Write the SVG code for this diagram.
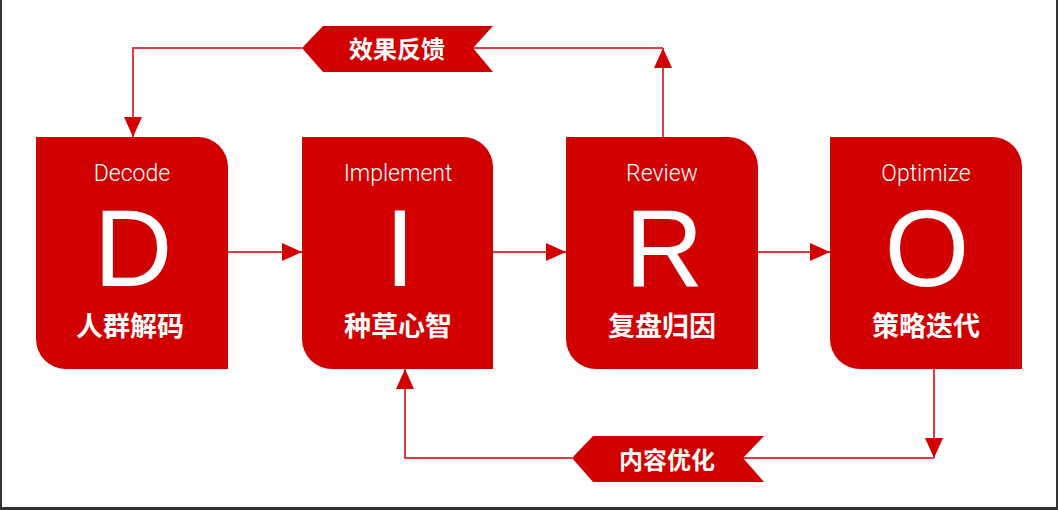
<svg xmlns="http://www.w3.org/2000/svg" width="1058" height="510" viewBox="0 0 1058 510">
<defs>
<style>
.card{fill:#d10000}
.sub{font-family:Roboto,"Liberation Sans",sans-serif;font-weight:300;fill:#fff;text-anchor:middle;font-size:23px}
.big{font-family:"Liberation Sans",Arial,sans-serif;font-weight:400;fill:#fff;text-anchor:middle;font-size:109px}
.cn{font-family:"Noto Sans CJK SC","Liberation Sans",sans-serif;font-weight:700;fill:#fff;text-anchor:middle;font-size:27px}
.tg{font-size:24px}
.ln{fill:none;stroke:#e23b40;stroke-width:2}
.ah{fill:#d40000}
.tag{fill:#d10000}
</style>
<marker id="arr" viewBox="0 0 20 18" refX="20" refY="9" markerWidth="20" markerHeight="18" markerUnits="userSpaceOnUse" orient="auto">
<path d="M0,0 L20,9 L0,18 Z" class="ah"/>
</marker>
</defs>
<rect width="1058" height="510" fill="#fff"/>
<g id="frame" fill="#333">
<rect x="0" y="0" width="2" height="510"/>
<rect x="1056" y="0" width="2" height="510"/>
<rect x="0" y="507" width="1058" height="3"/>
</g>
<g id="connectors">
<line class="ln" x1="228" y1="252" x2="302" y2="252" marker-end="url(#arr)"/>
<line class="ln" x1="493" y1="252" x2="566" y2="252" marker-end="url(#arr)"/>
<line class="ln" x1="758" y1="252" x2="830" y2="252" marker-end="url(#arr)"/>
<line class="ln" x1="663" y1="137" x2="663" y2="48" marker-end="url(#arr)"/>
<polyline class="ln" points="663,48 473,48"/>
<polyline class="ln" points="302,48 133,48 133,137" marker-end="url(#arr)"/>
<polyline class="ln" points="934,369 934,458" marker-end="url(#arr)"/>
<polyline class="ln" points="934,458 743,458"/>
<polyline class="ln" points="572,458 405,458 405,369" marker-end="url(#arr)"/>
</g>
<g id="tag-feedback">
<polygon class="tag" points="302,48 323,26 493,26 473,48 493,72 323,72"/>
<text class="cn tg" x="397" y="58">效果反馈</text>
</g>
<g id="tag-content">
<polygon class="tag" points="572,458 593,436 764,436 743,458 764,482 593,482"/>
<text class="cn tg" x="667" y="469">内容优化</text>
</g>
<g id="node-D">
<path class="card" d="M36,137 H198 A30,30 0 0 1 228,167 V369 H66 A30,30 0 0 1 36,339 Z"/>
<text class="sub" x="132" y="181">Decode</text>
<text class="big" x="133" y="286">D</text>
<text class="cn" x="130" y="336">人群解码</text>
</g>
<g id="node-I">
<path class="card" d="M302,137 H463 A30,30 0 0 1 493,167 V369 H332 A30,30 0 0 1 302,339 Z"/>
<text class="sub" x="398" y="181">Implement</text>
<text class="big" x="400" y="286">I</text>
<text class="cn" x="398" y="336">种草心智</text>
</g>
<g id="node-R">
<path class="card" d="M566,137 H728 A30,30 0 0 1 758,167 V369 H596 A30,30 0 0 1 566,339 Z"/>
<text class="sub" x="662" y="181">Review</text>
<text class="big" x="664" y="286">R</text>
<text class="cn" x="662" y="336">复盘归因</text>
</g>
<g id="node-O">
<path class="card" d="M830,137 H992 A30,30 0 0 1 1022,167 V369 H860 A30,30 0 0 1 830,339 Z"/>
<text class="sub" x="926" y="181">Optimize</text>
<text class="big" x="927" y="286">O</text>
<text class="cn" x="926" y="336">策略迭代</text>
</g>
</svg>
